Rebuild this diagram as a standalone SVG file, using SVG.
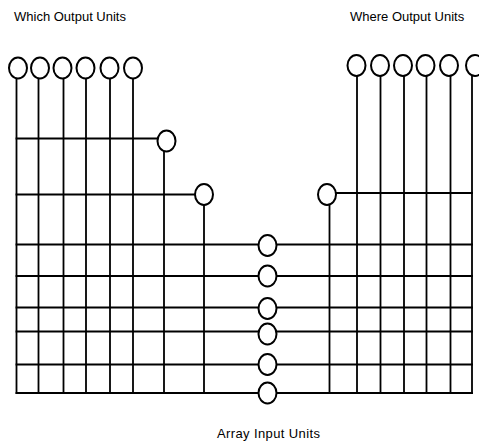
<svg xmlns="http://www.w3.org/2000/svg" width="479" height="443" viewBox="0 0 479 443">
  <style>
    .unit { fill: #ffffff; stroke: #000000; stroke-width: 2; }
    .wire { fill: none; stroke: #000000; stroke-width: 1.8; stroke-linecap: square; }
    .label { font-family: "Liberation Sans", Arial, Helvetica, sans-serif; font-size: 13px; fill: #000000; }
  </style>
  <rect x="0" y="0" width="479" height="443" fill="#ffffff"/>

  <!-- connectors: vertical output wires and horizontal input wires -->
  <g id="connectors">
    <!-- which-output wires -->
    <path class="wire" d="M16.5 78 V393 M38.5 78 V393 M63.5 78 V393 M86 78 V393 M110 78 V393 M133 78 V393"/>
    <!-- hidden-unit wires, left -->
    <path class="wire" d="M164 151 V393 M204 205 V393"/>
    <path class="wire" d="M16.5 138.5 H157.5 M16.5 194.5 H195"/>
    <!-- hidden-unit wires, right -->
    <path class="wire" d="M329.5 205 V393 M336.5 193 H472"/>
    <!-- where-output wires -->
    <path class="wire" d="M357 76 V393 M380.5 76 V393 M404 76 V393 M426.5 76 V393 M450.5 76 V393 M472 76 V393"/>
    <!-- array input wires -->
    <path class="wire" d="M16.5 244.5 H258.5 M276.5 244.5 H472"/>
    <path class="wire" d="M16.5 276 H258.5 M276.5 276 H472"/>
    <path class="wire" d="M16.5 307.5 H258.5 M276.5 307.5 H472"/>
    <path class="wire" d="M16.5 331.5 H258.5 M276.5 331.5 H472"/>
    <path class="wire" d="M16.5 364.5 H258.5 M276.5 364.5 H472"/>
    <path class="wire" d="M16.5 393 H258.5 M276.5 393 H472"/>
  </g>

  <!-- which output units -->
  <g id="which-1"><ellipse class="unit" cx="18" cy="68" rx="9" ry="10.5"/></g>
  <g id="which-2"><ellipse class="unit" cx="40" cy="68" rx="9" ry="10.5"/></g>
  <g id="which-3"><ellipse class="unit" cx="62.5" cy="68" rx="9" ry="10.5"/></g>
  <g id="which-4"><ellipse class="unit" cx="85.5" cy="68" rx="9" ry="10.5"/></g>
  <g id="which-5"><ellipse class="unit" cx="109.5" cy="68" rx="9" ry="10.5"/></g>
  <g id="which-6"><ellipse class="unit" cx="133" cy="68" rx="9" ry="10.5"/></g>

  <!-- hidden units -->
  <g id="hidden-left-1"><ellipse class="unit" cx="166.5" cy="141" rx="9" ry="10.5"/></g>
  <g id="hidden-left-2"><ellipse class="unit" cx="204" cy="194.5" rx="9" ry="10.5"/></g>
  <g id="hidden-right"><ellipse class="unit" cx="327" cy="194.5" rx="9" ry="10.5"/></g>

  <!-- where output units -->
  <g id="where-1"><ellipse class="unit" cx="356.5" cy="65.5" rx="9" ry="10.5"/></g>
  <g id="where-2"><ellipse class="unit" cx="380" cy="65.5" rx="9" ry="10.5"/></g>
  <g id="where-3"><ellipse class="unit" cx="403" cy="65.5" rx="9" ry="10.5"/></g>
  <g id="where-4"><ellipse class="unit" cx="425.5" cy="65.5" rx="9" ry="10.5"/></g>
  <g id="where-5"><ellipse class="unit" cx="449" cy="65.5" rx="9" ry="10.5"/></g>
  <g id="where-6"><ellipse class="unit" cx="475" cy="65.5" rx="9" ry="10.5"/></g>

  <!-- array input units -->
  <g id="input-1"><ellipse class="unit" cx="267.5" cy="245.5" rx="9" ry="10.5"/></g>
  <g id="input-2"><ellipse class="unit" cx="267.5" cy="276" rx="9" ry="10.5"/></g>
  <g id="input-3"><ellipse class="unit" cx="267.5" cy="308.5" rx="9" ry="10.5"/></g>
  <g id="input-4"><ellipse class="unit" cx="267.5" cy="334" rx="9" ry="10.5"/></g>
  <g id="input-5"><ellipse class="unit" cx="267.5" cy="364.5" rx="9" ry="10.5"/></g>
  <g id="input-6"><ellipse class="unit" cx="267.5" cy="393" rx="9" ry="10.5"/></g>

  <!-- group labels -->
  <g id="labels">
    <text class="label" x="14" y="21">Which Output Units</text>
    <text class="label" x="350" y="21">Where Output Units</text>
    <text class="label" x="217" y="438" textLength="103">Array Input Units</text>
  </g>
</svg>
